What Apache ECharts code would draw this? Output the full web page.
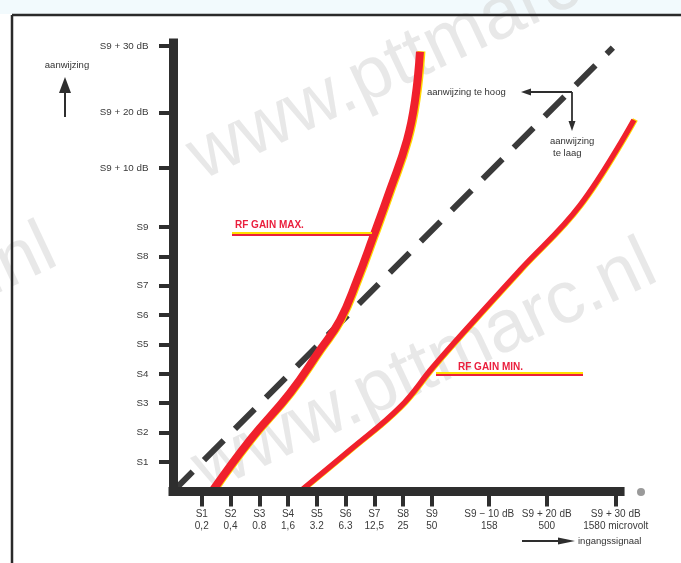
<!DOCTYPE html>
<html>
<head>
<meta charset="utf-8">
<script src="https://cdn.jsdelivr.net/npm/echarts@6/dist/echarts.min.js"></script>
<style>
html,body{margin:0;padding:0;background:#fff;}
#chart{width:681px;height:563px;}
</style>
</head>
<body>
<div id="chart"></div>
<script>
// ---- data ----
const xTickValues = [1, 2, 3, 4, 5, 6, 7, 8, 9, 11, 13, 15.4];
const xTickLabels = ['S1\n0,2', 'S2\n0,4', 'S3\n0.8', 'S4\n1,6', 'S5\n3.2', 'S6\n6.3', 'S7\n12,5', 'S8\n25', 'S9\n50',
  'S9 − 10 dB\n158', 'S9 + 20 dB\n500', 'S9 + 30 dB\n1580 microvolt'];
const yTickValues = [1, 2, 3, 4, 5, 6, 7, 8, 9, 11, 12.9, 15.15];
const yTickLabels = ['S1', 'S2', 'S3', 'S4', 'S5', 'S6', 'S7', 'S8', 'S9', 'S9 + 10 dB', 'S9 + 20 dB', 'S9 + 30 dB'];

const idealLine = [[0, 0], [15.3, 15.1]];
const rfGainMax = [[1.36, 0], [2.68, 1.75], [4.07, 3.35], [5.11, 4.81], [5.81, 5.83], [6.40, 7.19],
  [6.96, 8.66], [7.55, 10.26], [8.14, 11.96], [8.42, 13.32], [8.59, 14.96]];
const rfGainMin = [[4.42, 0], [6.16, 1.41], [7.9, 2.87], [9.04, 4.23], [10.33, 5.66], [12.07, 7.53],
  [14.16, 9.74], [16.03, 12.64]];

const labelMax = 'RF GAIN MAX.';
const labelMin = 'RF GAIN MIN.';

// axis extents (drawn axis) and plotting extent (curves run past the drawn x axis)
const X_AXIS_MAX = 15.55, X_PLOT_MAX = 16.2, Y_MAX = 15.26;
const PX_PER_X = 28.75;

function lookup(vals, labels) {
  return function (v) {
    const i = vals.findIndex(t => Math.abs(t - v) < 1e-6);
    return i >= 0 ? labels[i] : '';
  };
}

const chart = echarts.init(document.getElementById('chart'), null, {renderer: 'canvas'});
const FONT = '"Liberation Sans", Arial, sans-serif';
const DARK = '#2e2e2e';

function wm(x, y) {
  return {
    type: 'text', x: x, y: y, rotation: 0.44, z: -10,
    style: {text: 'www.pttmarc.nl', fill: 'rgba(210,210,210,0.5)', font: '74px ' + FONT,
      textAlign: 'center', textVerticalAlign: 'middle'}
  };
}
function arrowHead(tip, dir, len, half) {
  const [x, y] = tip;
  let pts;
  if (dir === 'left') pts = [[x, y], [x + len, y - half], [x + len, y + half]];
  if (dir === 'right') pts = [[x, y], [x - len, y - half], [x - len, y + half]];
  if (dir === 'up') pts = [[x, y], [x - half, y + len], [x + half, y + len]];
  if (dir === 'down') pts = [[x, y], [x - half, y - len], [x + half, y - len]];
  return {type: 'polygon', shape: {points: pts}, style: {fill: DARK}, z: 20};
}
function seg(x1, y1, x2, y2, w, c) {
  return {type: 'line', shape: {x1, y1, x2, y2}, style: {stroke: c || DARK, lineWidth: w || 1.5}, z: 20};
}
function txt(x, y, s, size, color, align, extra) {
  return {type: 'text', x: x, y: y, z: 20,
    style: Object.assign({text: s, fill: color || '#333', font: (size || 9) + 'px ' + FONT,
      textAlign: align || 'left', textVerticalAlign: 'middle'}, extra || {})};
}

const G_LEFT = 173, G_TOP = 43, G_BOTTOM = 71.6;
const option = {
  animation: false,
  backgroundColor: '#fff',
  grid: [
    {left: G_LEFT, width: X_PLOT_MAX * PX_PER_X, top: G_TOP, bottom: G_BOTTOM},
    {left: G_LEFT, width: X_AXIS_MAX * PX_PER_X, top: G_TOP, bottom: G_BOTTOM}
  ],
  xAxis: [
    {gridIndex: 0, type: 'value', min: 0, max: X_PLOT_MAX, show: false},
    {
      gridIndex: 1, type: 'value', min: 0, max: X_AXIS_MAX, z: 10, offset: 3,
      axisLine: {show: true, lineStyle: {color: DARK, width: 9, cap: 'square'}},
      axisTick: {show: true, customValues: xTickValues, length: 15, lineStyle: {color: DARK, width: 4}},
      axisLabel: {show: true, customValues: xTickValues, formatter: lookup(xTickValues, xTickLabels),
        margin: 14, fontSize: 10, lineHeight: 12, color: '#3a3a3a', fontFamily: FONT, align: 'center'},
      splitLine: {show: false}
    }
  ],
  yAxis: [
    {gridIndex: 0, type: 'value', min: 0, max: Y_MAX, show: false},
    {
      gridIndex: 1, type: 'value', min: 0, max: Y_MAX, z: 10, offset: 5.5,
      axisLine: {show: true, lineStyle: {color: DARK, width: 9, cap: 'square'}},
      axisTick: {show: true, customValues: yTickValues, length: 14, lineStyle: {color: DARK, width: 4}},
      axisLabel: {show: true, customValues: yTickValues, formatter: lookup(yTickValues, yTickLabels),
        margin: 19, fontSize: 9.8, color: '#3a3a3a', fontFamily: FONT},
      splitLine: {show: false}
    }
  ],
  series: [
    {type: 'line', xAxisIndex: 0, yAxisIndex: 0, data: idealLine, symbol: 'none', clip: false, z: 3,
      lineStyle: {color: '#3a3a3a', width: 6, type: [28, 16], cap: 'butt'}},
    {type: 'line', xAxisIndex: 0, yAxisIndex: 0, data: rfGainMax, symbol: 'none', smooth: 0.45, clip: false, z: 4,
      lineStyle: {color: '#f0202c', width: 8, shadowColor: '#ffd800', shadowOffsetX: 1.5, shadowOffsetY: -0.5, shadowBlur: 0}},
    {type: 'line', xAxisIndex: 0, yAxisIndex: 0, data: rfGainMin, symbol: 'none', smooth: 0.4, clip: false, z: 4,
      lineStyle: {color: '#f0202c', width: 5.5, shadowColor: '#ffd800', shadowOffsetX: 1.5, shadowOffsetY: -0.5, shadowBlur: 0}}
  ],
  graphic: [
    {type: 'rect', shape: {x: 0, y: 0, width: 681, height: 14}, style: {fill: '#f2fafd'}, z: -20},
    wm(420, 55), wm(425, 368), wm(-175, 352),
    seg(12, 15, 681, 15, 2.5, '#2a2a2a'),
    seg(12, 15, 12, 563, 2.5, '#2a2a2a'),
    txt(67, 65, 'aanwijzing', 9.5, '#333', 'center'),
    seg(65, 90, 65, 117, 2),
    arrowHead([65, 77], 'up', 16, 6),
    txt(427, 92, 'aanwijzing te hoog', 9.5, '#333', 'left'),
    seg(572, 92, 528, 92, 1.8),
    arrowHead([521, 92], 'left', 10, 3.5),
    seg(572, 92, 572, 124, 1.8),
    arrowHead([572, 131], 'down', 10, 3.5),
    txt(550, 141, 'aanwijzing', 9.5, '#333', 'left'),
    txt(553, 153, 'te laag', 9.5, '#333', 'left'),
    seg(522, 541, 562, 541, 2),
    {type: 'polygon', shape: {points: [[575, 541], [558, 537.5], [558, 544.5]]}, style: {fill: DARK}, z: 20},
    txt(578, 541, 'ingangssignaal', 9.5, '#333', 'left'),
    txt(235, 225, labelMax, 10, '#ea1f3d', 'left', {font: 'bold 10px ' + FONT, textShadowColor: '#ffe000', textShadowOffsetX: -1, textShadowOffsetY: -1, textShadowBlur: 0}),
    seg(232, 233, 372, 233, 2, '#ffe000'),
    seg(232, 235, 372, 235, 2, '#ea1f3d'),
    txt(458, 367, labelMin, 10, '#ea1f3d', 'left', {font: 'bold 10px ' + FONT, textShadowColor: '#ffe000', textShadowOffsetX: -1, textShadowOffsetY: -1, textShadowBlur: 0}),
    seg(436, 373, 583, 373, 2, '#ffe000'),
    seg(436, 375, 583, 375, 2, '#ea1f3d'),
    {type: 'circle', shape: {cx: 641, cy: 492, r: 4}, style: {fill: '#9a9a9a'}, z: 20}
  ]
};
chart.setOption(option);
</script>
</body>
</html>
